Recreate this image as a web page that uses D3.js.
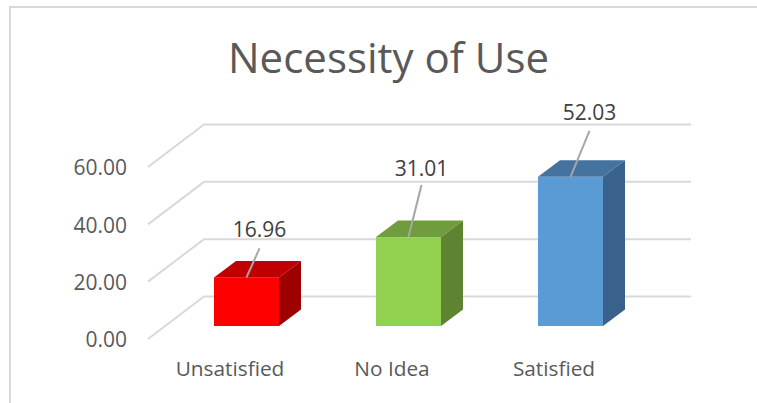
<!DOCTYPE html>
<html>
<head>
<meta charset="utf-8">
<script src="https://cdn.jsdelivr.net/npm/d3@7"></script>
<style>
  html, body { margin: 0; padding: 0; background: #fff; overflow: hidden; }
  text { font-family: "Open Sans", sans-serif; }
</style>
</head>
<body>
<div id="d3-container"></div>
<script>
const categories = ["Unsatisfied", "No Idea", "Satisfied"];
const values = [16.96, 31.01, 52.03];
const labels = ["16.96", "31.01", "52.03"];
const yTicks = [0, 20, 40, 60];
const frontColors = ["#ff0000", "#92d050", "#5b9bd5"];
const topColors = ["#c00000", "#6f9c3d", "#44739f"];
const sideColors = ["#9e0000", "#5f8431", "#38628a"];

const width = 757, height = 403;

// floor is drawn as a slanted plane, so the front and back walls share one scale
const depth = { wall: { dx: 56, dy: -42.5 }, bar: { dx: 22, dy: -16.5 } };
const wallLeft = 148, wallRight = 691;

// where each value label sits relative to the top middle of its bar
const leaders = [
  { dx: 13, dy: -29, textDy: -40 },
  { dx: 13, dy: -52, textDy: -61.5 },
  { dx: 19, dy: -46, textDy: -56.5 }
];

const yScale = d3.scaleLinear().domain([0, 60]).range([339, 167]);
const barBase = 326;
const xScale = d3.scaleBand()
  .domain(categories)
  .range([165.5, 651.5])
  .paddingInner(0.5988)
  .paddingOuter(0.2994);

const svg = d3.select("#d3-container")
  .append("svg")
  .attr("width", width)
  .attr("height", height);

// chart border
svg.append("path")
  .attr("d", `M10,${height}V7H${width}`)
  .attr("fill", "none")
  .attr("stroke", "#d9d9d9")
  .attr("stroke-width", 2);

svg.append("text")
  .attr("x", 388.5)
  .attr("y", 73)
  .attr("text-anchor", "middle")
  .attr("font-size", 42)
  .attr("fill", "#595959")
  .text("Necessity of Use");

// gridlines
const grid = svg.append("g").attr("fill", "none").attr("stroke", "#d9d9d9").attr("stroke-width", 2);
yTicks.forEach(t => {
  const y = yScale(t);
  grid.append("path")
    .attr("d", `M${wallLeft},${y}L${wallLeft + depth.wall.dx},${y + depth.wall.dy}H${wallRight}`);
});

// y axis labels
svg.append("g")
  .selectAll("text")
  .data(yTicks)
  .join("text")
  .attr("x", 127)
  .attr("y", d => yScale(d) + 1)
  .attr("dy", "0.35em")
  .attr("text-anchor", "end")
  .attr("font-size", 21)
  .attr("fill", "#595959")
  .text(d => d3.format(".2f")(d));

// x axis labels
svg.append("g")
  .selectAll("text")
  .data(categories)
  .join("text")
  .attr("x", d => xScale(d) + xScale.bandwidth() / 2 - 16.5)
  .attr("y", 375.5)
  .attr("text-anchor", "middle")
  .attr("font-size", 20.8)
  .attr("fill", "#595959")
  .text(d => d);

// bars: front, top, side
const barH = v => yScale(0) - yScale(v);
const bars = svg.append("g")
  .selectAll("g")
  .data(categories)
  .join("g");

bars.each(function(d, i) {
  const g = d3.select(this);
  const x0 = xScale(d), w = xScale.bandwidth();
  const top = barBase - barH(values[i]);
  const dx = depth.bar.dx, dy = depth.bar.dy;
  const l = leaders[i];
  g.append("rect")
    .attr("x", x0).attr("y", top)
    .attr("width", w).attr("height", barH(values[i]))
    .attr("fill", frontColors[i]);
  g.append("path")
    .attr("d", `M${x0},${top}l${dx},${dy}h${w}l${-dx},${-dy}z`)
    .attr("fill", topColors[i]);
  g.append("path")
    .attr("d", `M${x0 + w},${top}l${dx},${dy}V${barBase + dy}l${-dx},${-dy}z`)
    .attr("fill", sideColors[i]);
  // leader line up to the value label
  g.append("line")
    .attr("x1", x0 + w / 2).attr("y1", top)
    .attr("x2", x0 + w / 2 + l.dx).attr("y2", top + l.dy)
    .attr("stroke", "#a6a6a6")
    .attr("stroke-width", 2);
  g.append("text")
    .attr("x", x0 + w / 2 + l.dx)
    .attr("y", top + l.textDy)
    .attr("text-anchor", "middle")
    .attr("font-size", 21)
    .attr("fill", "#404040")
    .text(labels[i]);
});
</script>
</body>
</html>
